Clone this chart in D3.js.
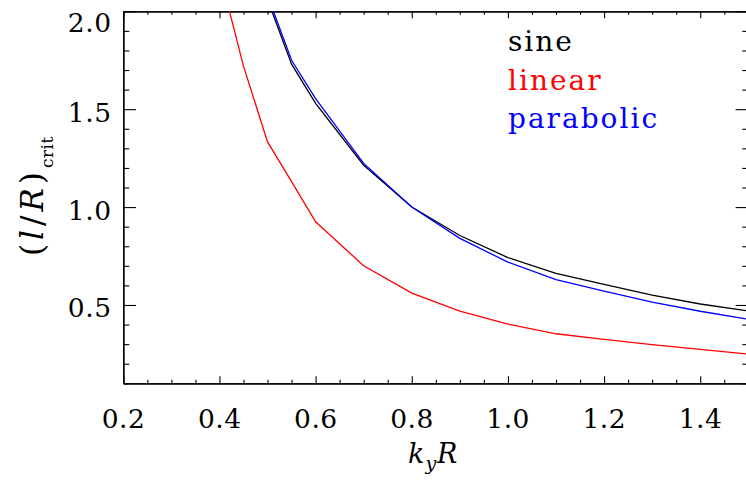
<!DOCTYPE html>
<html><head><meta charset="utf-8">
<script src="https://cdn.jsdelivr.net/npm/d3@7"></script>
<style>
html,body{margin:0;padding:0;background:#fff;}
svg{display:block;}
svg text{font-family:"DejaVu Serif", serif;}
</style></head>
<body><svg id="c" width="746" height="482"></svg>
<script>
// ---- data ----
const kyR      = [0.40, 0.45, 0.50, 0.55, 0.60, 0.70, 0.80, 0.90, 1.00, 1.10, 1.20, 1.30, 1.40, 1.50];
const sine     = [null, null, 2.06, 1.73, 1.53, 1.214, 1.00, 0.855, 0.742, 0.662, 0.605, 0.550, 0.505, 0.469];
const linear   = [2.20, 1.72, 1.333, 1.13, 0.925, 0.700, 0.561, 0.469, 0.402, 0.353, 0.324, 0.298, 0.273, 0.249];
const parabolic= [null, null, 2.08, 1.75, 1.554, 1.223, 1.00, 0.840, 0.719, 0.630, 0.571, 0.515, 0.468, 0.427];
const seriesNames  = ["sine", "linear", "parabolic"];
const seriesColors = ["#000000", "#ff0000", "#0000ff"];
const xTicks = [0.2, 0.4, 0.6, 0.8, 1.0, 1.2, 1.4];
const yTicks = [0.5, 1.0, 1.5, 2.0];

// ---- layout ----
const L = 123.3, R = 748.3, T = 11.3, B = 383.3;
const x = d3.scaleLinear().domain([0.2, 1.5]).range([L, R]);
const y = d3.scaleLinear().domain([0.1, 2.0]).range([B, T]);
const svg = d3.select("#c");

svg.append("clipPath").attr("id","clip").append("rect")
  .attr("x", L).attr("y", T).attr("width", R - L).attr("height", B - T);

const xMinor = d3.range(0.2, 1.5001, 0.05).map(v => +v.toFixed(2)).filter(v => !xTicks.some(t => Math.abs(t - v) < 1e-6));
const yMinor = d3.range(0.1, 2.0001, 0.1).map(v => +v.toFixed(2)).filter(v => !yTicks.some(t => Math.abs(t - v) < 1e-6));

function styleAxis(g){
  g.selectAll("path.domain").attr("stroke","#000").attr("stroke-width",1.3);
  g.selectAll(".tick line").attr("stroke","#000").attr("stroke-width",1.1);
  g.selectAll(".tick text").remove();
}
svg.append("g").attr("transform",`translate(0,${B})`)
  .call(d3.axisTop(x).tickValues(xTicks).tickSize(7).tickSizeOuter(0).tickFormat("")).call(styleAxis);
svg.append("g").attr("transform",`translate(0,${B})`)
  .call(d3.axisTop(x).tickValues(xMinor).tickSize(3.5).tickSizeOuter(0).tickFormat("")).call(styleAxis);
svg.append("g").attr("transform",`translate(0,${T})`)
  .call(d3.axisBottom(x).tickValues(xTicks).tickSize(7).tickSizeOuter(0).tickFormat("")).call(styleAxis);
svg.append("g").attr("transform",`translate(0,${T})`)
  .call(d3.axisBottom(x).tickValues(xMinor).tickSize(3.5).tickSizeOuter(0).tickFormat("")).call(styleAxis);
svg.append("g").attr("transform",`translate(${L},0)`)
  .call(d3.axisRight(y).tickValues(yTicks).tickSize(12.7).tickSizeOuter(0).tickFormat("")).call(styleAxis);
svg.append("g").attr("transform",`translate(${L},0)`)
  .call(d3.axisRight(y).tickValues(yMinor).tickSize(6).tickSizeOuter(0).tickFormat("")).call(styleAxis);
svg.append("g").attr("transform",`translate(${R},0)`)
  .call(d3.axisLeft(y).tickValues(yTicks).tickSize(12.7).tickSizeOuter(0).tickFormat("")).call(styleAxis);
svg.append("g").attr("transform",`translate(${R},0)`)
  .call(d3.axisLeft(y).tickValues(yMinor).tickSize(6).tickSizeOuter(0).tickFormat("")).call(styleAxis);

// tick labels
const LS = 0.5, FS = 26.5;
svg.append("g").selectAll("text").data(xTicks).join("text")
  .attr("x", d => x(d) + LS/2).attr("y", 428)
  .attr("text-anchor","middle").attr("font-size",FS).attr("font-weight",300).attr("letter-spacing",LS)
  .text(d => d.toFixed(1));
svg.append("g").selectAll("text").data(yTicks).join("text")
  .attr("x", 111 + LS).attr("y", d => d === 2.0 ? 32 : y(d) + 12.5)
  .attr("text-anchor","end").attr("font-size",FS).attr("font-weight",300).attr("letter-spacing",LS)
  .text(d => d.toFixed(1));

// lines
const allSeries = [sine, linear, parabolic];
const line = d3.line().defined(d => d[1] != null).x(d => x(d[0])).y(d => y(d[1]));
const plot = svg.append("g").attr("clip-path","url(#clip)");
[1, 0, 2].forEach(i => {
  plot.append("path").datum(kyR.map((k, j) => [k, allSeries[i][j]]))
    .attr("fill","none").attr("stroke", seriesColors[i]).attr("stroke-width",1.3)
    .attr("d", line);
});

// legend
svg.append("g").selectAll("text").data(seriesNames).join("text")
  .attr("x", 508).attr("y", (d, i) => 51 + i * 38.5)
  .attr("font-size",28).attr("font-weight",300).attr("letter-spacing",2)
  .attr("fill", (d, i) => seriesColors[i])
  .text(d => d);

// x label
const xl = svg.append("text").attr("x", 408).attr("y", 463).attr("font-size",27).attr("font-weight",300).attr("letter-spacing",1);
xl.append("tspan").attr("font-style","italic").text("k");
xl.append("tspan").attr("font-style","italic").attr("font-size",19).attr("dy",7).text("y");
xl.append("tspan").attr("font-style","italic").attr("dy",-7).text("R");

// y label
const yl = svg.append("text").attr("transform","translate(43,256) rotate(-90)")
  .attr("font-size",31).attr("font-weight",300).attr("letter-spacing",4);
yl.append("tspan").text("(");
yl.append("tspan").attr("font-style","italic").text("l");
yl.append("tspan").text("/");
yl.append("tspan").attr("font-style","italic").text("R");
yl.append("tspan").text(")");
yl.append("tspan").attr("font-size",17).attr("letter-spacing",0.5).attr("dy",10).text("crit");
</script></body></html>
